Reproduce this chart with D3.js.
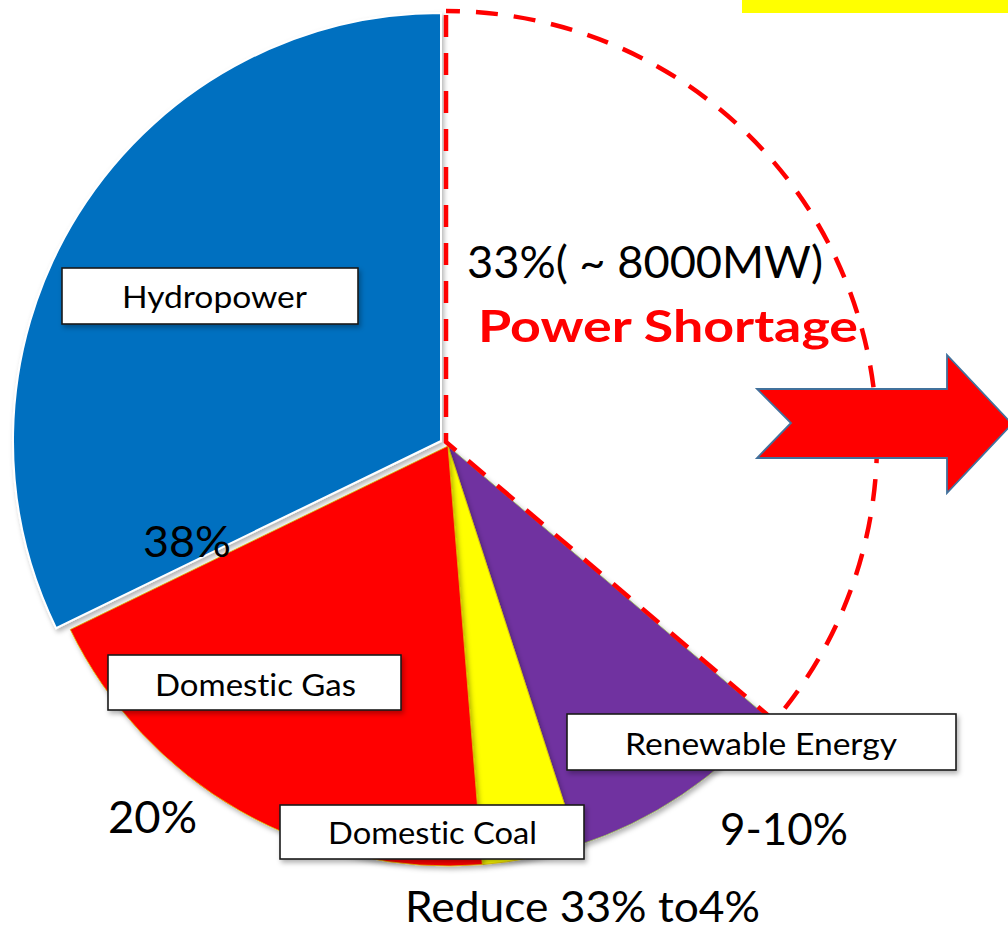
<!DOCTYPE html>
<html>
<head>
<meta charset="utf-8">
<script src="https://cdn.jsdelivr.net/npm/d3@7"></script>
<style>
  html, body { margin: 0; padding: 0; background: #fff; }
  svg { display: block; font-family: Lato, Carlito, Calibri, sans-serif; font-variant-ligatures: none; font-feature-settings: "liga" 0, "clig" 0; }
</style>
</head>
<body>
<svg id="chart" width="1008" height="931"></svg>
<script>
// ---- data ----
const categories = ["Power Shortage", "Renewable Energy", "Domestic Coal", "Domestic Gas", "Hydropower"];
const shares = [36.2, 8.8, 3.7, 19.1, 32.2];           // share of circle as drawn
const shareLabels = ["33%( ~ 8000MW)", "9-10%", "Reduce 33% to4%", "20%", "38%"];
const headline = "Power Shortage";

// ---- styles / layout ----
const colors = { "Power Shortage": "none", "Renewable Energy": "#7030a0", "Domestic Coal": "#ffff00", "Domestic Gas": "#ff0000", "Hydropower": "#0070c0" };
const geom = {
  "Power Shortage":   { cx: 446, cy: 442, r: 431 },
  "Renewable Energy": { cx: 448, cy: 446, r: 420 },
  "Domestic Coal":    { cx: 448, cy: 446, r: 420 },
  "Domestic Gas":     { cx: 448, cy: 446, r: 420 },
  "Hydropower":       { cx: 441, cy: 441, r: 428 }
};
const boxes = {
  "Hydropower":       { x: 62,  y: 268, w: 296, h: 56, tx: 214.5, ty: 308, tw: 185 },
  "Domestic Gas":     { x: 108, y: 655, w: 293, h: 55, tx: 255.5, ty: 696, tw: 201 },
  "Domestic Coal":    { x: 280, y: 805, w: 304, h: 54, tx: 432.5, ty: 844, tw: 209 },
  "Renewable Energy": { x: 567, y: 714, w: 389, h: 56, tx: 761,   ty: 755, tw: 272 }
};
const pctPos = {
  "33%( ~ 8000MW)":  { x: 467, y: 278, w: 356, fs: 45 },
  "9-10%":           { x: 720, y: 845, w: 128, fs: 45 },
  "Reduce 33% to4%": { x: 405, y: 922, w: 355, fs: 43 },
  "20%":             { x: 108, y: 833, w: 89,  fs: 44 },
  "38%":             { x: 143, y: 557, w: 88,  fs: 43 }
};

const svg = d3.select("#chart");
const defs = svg.append("defs");
const f = defs.append("filter").attr("id", "shadow").attr("x", "-10%").attr("y", "-10%").attr("width", "130%").attr("height", "130%");
f.append("feDropShadow").attr("dx", 2).attr("dy", 3).attr("stdDeviation", 2.5).attr("flood-color", "#000").attr("flood-opacity", 0.3);

// yellow strip top right
svg.append("rect").attr("x", 742).attr("y", 0).attr("width", 266).attr("height", 13).attr("fill", "#ffff00");

const pie = d3.pie().sort(null).value(d => d.v).startAngle(0).endAngle(2 * Math.PI);
const arcs = pie(categories.map((c, i) => ({ name: c, v: shares[i] })));

const arcGen = d3.arc().innerRadius(0).outerRadius(d => geom[d.data.name].r);

// filled slices
const slices = svg.append("g");
arcs.filter(d => d.data.name !== "Power Shortage").forEach(d => {
  const g = geom[d.data.name];
  slices.append("path")
    .attr("transform", `translate(${g.cx},${g.cy})`)
    .attr("d", arcGen(d))
    .attr("fill", colors[d.data.name])
    .attr("stroke", d.data.name === "Hydropower" ? "#ffffff" : (d.data.name === "Renewable Energy" ? "#9bbb59" : "#e0c000"))
    .attr("stroke-width", d.data.name === "Hydropower" ? 2 : 0.8)
    .attr("filter", "url(#shadow)");
});

// dashed shortage slice
arcs.filter(d => d.data.name === "Power Shortage").forEach(d => {
  const g = geom[d.data.name];
  svg.append("path")
    .attr("transform", `translate(${g.cx},${g.cy})`)
    .attr("d", arcGen(d))
    .attr("fill", "none")
    .attr("stroke", "#ff0000")
    .attr("stroke-width", 4.5)
    .attr("stroke-dasharray", "22,16")
    .attr("stroke-dashoffset", 8);
});

// label boxes
Object.keys(boxes).forEach(k => {
  const b = boxes[k];
  svg.append("rect").attr("x", b.x).attr("y", b.y).attr("width", b.w).attr("height", b.h)
    .attr("fill", "#fff").attr("stroke", "#1a1a1a").attr("stroke-width", 1.6)
    .attr("filter", "url(#shadow)");
  svg.append("text").attr("x", b.tx).attr("y", b.ty).attr("text-anchor", "middle")
    .attr("font-size", 30).attr("fill", "#000")
    .attr("textLength", b.tw).attr("lengthAdjust", "spacingAndGlyphs")
    .text(k);
});

// percentage labels
shareLabels.forEach(t => {
  const p = pctPos[t];
  svg.append("text").attr("x", p.x).attr("y", p.y).attr("font-size", p.fs).attr("fill", "#000")
    .attr("textLength", p.w).attr("lengthAdjust", "spacingAndGlyphs")
    .text(t);
});

svg.append("text").attr("x", 478).attr("y", 342).attr("font-size", 43).attr("font-weight", "bold")
  .attr("fill", "#ff0000").attr("textLength", 380).attr("lengthAdjust", "spacingAndGlyphs")
  .text(headline);

// arrow
const arrowPts = [[757, 389], [947, 389], [947, 355], [1012, 424], [947, 493], [947, 458], [757, 458], [791, 423]];
svg.append("path")
  .attr("d", d3.line()(arrowPts) + "Z")
  .attr("fill", "#ff0000").attr("stroke", "#41719c").attr("stroke-width", 1.8);
</script>
</body>
</html>
